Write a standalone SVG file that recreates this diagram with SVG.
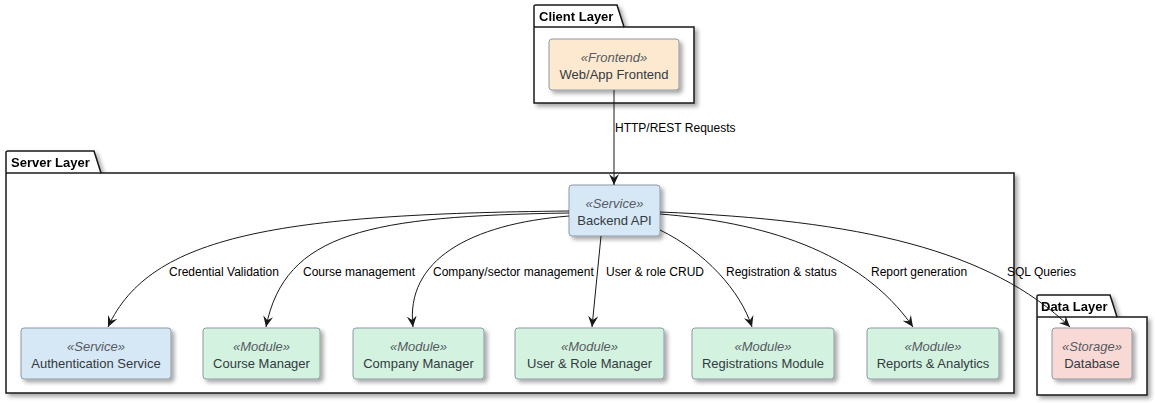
<svg xmlns="http://www.w3.org/2000/svg" width="1155" height="403" viewBox="0 0 1155 403">
<defs>
<filter id="sh" x="-10%" y="-10%" width="130%" height="140%">
<feGaussianBlur in="SourceAlpha" stdDeviation="2"/>
<feOffset dx="3" dy="3" result="b"/>
<feComponentTransfer><feFuncA type="linear" slope="0.35"/></feComponentTransfer>
<feMerge><feMergeNode/><feMergeNode in="SourceGraphic"/></feMerge>
</filter>
<marker id="arr" viewBox="0 0 12 10" refX="11" refY="5" markerWidth="12" markerHeight="10" markerUnits="userSpaceOnUse" orient="auto">
<path d="M0,0 L11,5 L0,10 L4,5 z" fill="#181818"/>
</marker>
</defs>
<style>
.pkg{fill:#ffffff;stroke:#181818;stroke-width:1.5}
.ptitle{font-family:"Liberation Sans",Arial,sans-serif;font-size:13px;font-weight:bold;fill:#000}
.node{stroke:#8e9aa6;stroke-width:1}
.st{font-family:"Liberation Sans",Arial,sans-serif;font-size:13px;font-style:italic;fill:#555b61;text-anchor:middle}
.nm{font-family:"Liberation Sans",Arial,sans-serif;font-size:13px;fill:#333a40;text-anchor:middle}
.lbl{font-family:"Liberation Sans",Arial,sans-serif;font-size:12px;fill:#000}
.edge{fill:none;stroke:#181818;stroke-width:1;marker-end:url(#arr)}
.svc{fill:#d6e7f6}
.mod{fill:#d4f2e0}
.fe{fill:#fde9cf}
.stor{fill:#f9d9d6}
</style>

<g id="client-layer" filter="url(#sh)">
<path class="pkg" d="M534,27 L534,6 Q534,5 536,5 L617,5 L624,27 L694,27 L694,103 L534,103 Z"/>
<line x1="534" y1="27" x2="624" y2="27" stroke="#181818" stroke-width="1.5"/>
<text class="ptitle" x="539" y="21">Client Layer</text>
</g>

<g id="server-layer" filter="url(#sh)">
<path class="pkg" d="M6,173 L6,152 Q6,151 8,151 L94,151 L101,173 L1014,173 L1014,393 L6,393 Z"/>
<line x1="6" y1="173" x2="101" y2="173" stroke="#181818" stroke-width="1.5"/>
<text class="ptitle" x="11" y="167">Server Layer</text>
</g>

<g id="data-layer" filter="url(#sh)">
<path class="pkg" d="M1037,317 L1037,296 Q1037,295 1039,295 L1110,295 L1117,317 L1147,317 L1147,395 L1037,395 Z"/>
<line x1="1037" y1="317" x2="1117" y2="317" stroke="#181818" stroke-width="1.5"/>
<text class="ptitle" x="1041" y="311">Data Layer</text>
</g>

<g id="frontend">
<rect class="node fe" x="549" y="39" width="130" height="51" rx="3" filter="url(#sh)"/>
<text class="st" x="614" y="62">«Frontend»</text>
<text class="nm" x="614" y="79">Web/App Frontend</text>
</g>

<g id="backend-api">
<rect class="node svc" x="569" y="185" width="91" height="51" rx="3" filter="url(#sh)"/>
<text class="st" x="614.5" y="208">«Service»</text>
<text class="nm" x="614.5" y="225">Backend API</text>
</g>

<g id="auth-service">
<rect class="node svc" x="21" y="328" width="150" height="51" rx="3" filter="url(#sh)"/>
<text class="st" x="96" y="351">«Service»</text>
<text class="nm" x="96" y="368">Authentication Service</text>
</g>

<g id="course-manager">
<rect class="node mod" x="203" y="328" width="117" height="51" rx="3" filter="url(#sh)"/>
<text class="st" x="261.5" y="351">«Module»</text>
<text class="nm" x="261.5" y="368">Course Manager</text>
</g>

<g id="company-manager">
<rect class="node mod" x="353" y="328" width="131" height="51" rx="3" filter="url(#sh)"/>
<text class="st" x="418.5" y="351">«Module»</text>
<text class="nm" x="418.5" y="368">Company Manager</text>
</g>

<g id="user-role-manager">
<rect class="node mod" x="515" y="328" width="149" height="51" rx="3" filter="url(#sh)"/>
<text class="st" x="589.5" y="351">«Module»</text>
<text class="nm" x="589.5" y="368">User &amp; Role Manager</text>
</g>

<g id="registrations-module">
<rect class="node mod" x="692" y="328" width="142" height="51" rx="3" filter="url(#sh)"/>
<text class="st" x="763" y="351">«Module»</text>
<text class="nm" x="763" y="368">Registrations Module</text>
</g>

<g id="reports-analytics">
<rect class="node mod" x="867" y="328" width="132" height="51" rx="3" filter="url(#sh)"/>
<text class="st" x="933" y="351">«Module»</text>
<text class="nm" x="933" y="368">Reports &amp; Analytics</text>
</g>

<g id="database">
<rect class="node stor" x="1052" y="328" width="80" height="51" rx="3" filter="url(#sh)"/>
<text class="st" x="1092" y="351">«Storage»</text>
<text class="nm" x="1092" y="368">Database</text>
</g>

<g id="connectors">
<path class="edge" d="M614,90 L614,185"/>
<path class="edge" d="M569,211 C280,214 150,235 108,327"/>
<path class="edge" d="M569,213 C370,216 285,232 266,327"/>
<path class="edge" d="M569,216 C470,224 405,260 413,327"/>
<path class="edge" d="M601,236 L592,327"/>
<path class="edge" d="M660,230 C705,252 740,290 752,327"/>
<path class="edge" d="M660,214 C760,222 860,250 913,327"/>
<path class="edge" d="M660,212 C860,220 990,250 1070,327"/>
<text class="lbl" x="615" y="132">HTTP/REST Requests</text>
<text class="lbl" x="169" y="276">Credential Validation</text>
<text class="lbl" x="303" y="276">Course management</text>
<text class="lbl" x="433" y="276">Company/sector management</text>
<text class="lbl" x="606" y="276">User &amp; role CRUD</text>
<text class="lbl" x="726" y="276">Registration &amp; status</text>
<text class="lbl" x="871" y="276">Report generation</text>
<text class="lbl" x="1007" y="276">SQL Queries</text>
</g>
</svg>
